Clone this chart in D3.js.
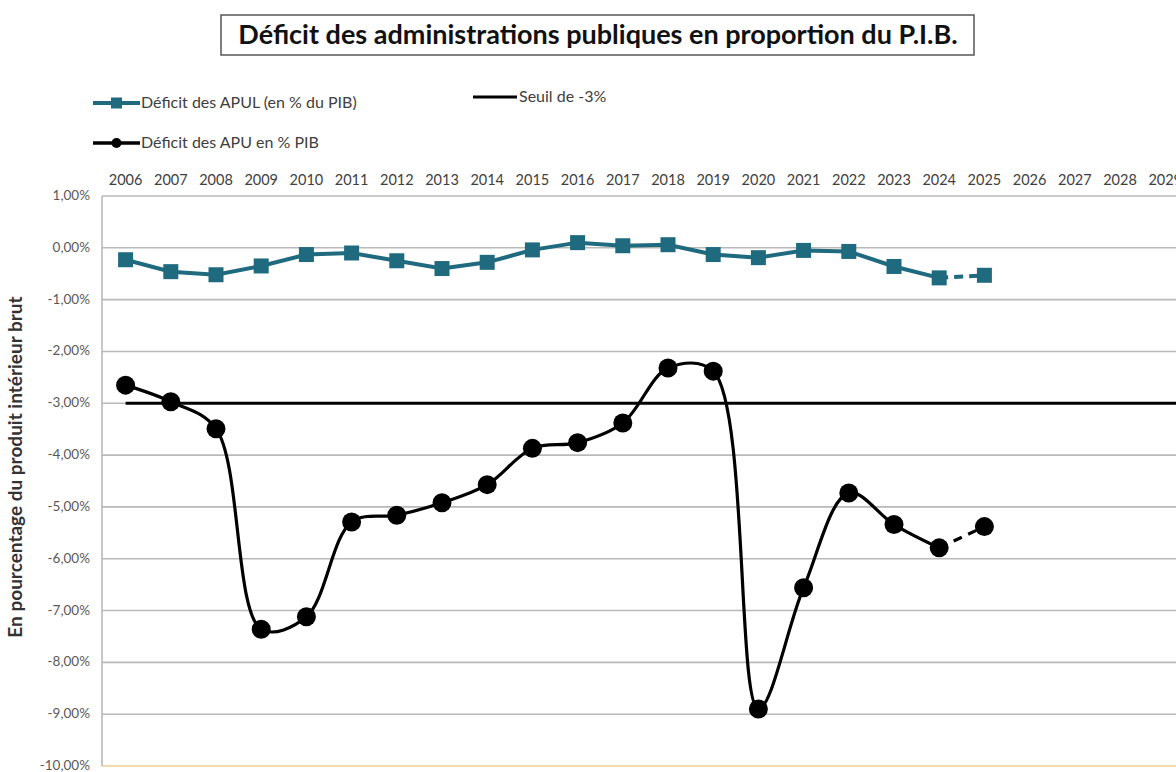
<!DOCTYPE html>
<html>
<head>
<meta charset="utf-8">
<script src="https://cdn.jsdelivr.net/npm/d3@7"></script>
<style>
  body { margin: 0; background: #fff; }
  svg { display: block; font-family: Lato, "Open Sans", sans-serif; }
</style>
</head>
<body>
<script>
// categories (top axis) - 2030 is off the right edge, like in the original crop
const years = ["2006", "2007", "2008", "2009", "2010", "2011", "2012", "2013", "2014", "2015",
               "2016", "2017", "2018", "2019", "2020", "2021", "2022", "2023", "2024", "2025",
               "2026", "2027", "2028", "2029", "2030"];

// series, in % of GDP
const dataYears = ["2006", "2007", "2008", "2009", "2010", "2011", "2012", "2013", "2014", "2015",
                   "2016", "2017", "2018", "2019", "2020", "2021", "2022", "2023", "2024", "2025"];
const apulValues = [-0.23, -0.46, -0.52, -0.35, -0.13, -0.10, -0.25, -0.40, -0.28, -0.04,
                    0.10, 0.04, 0.06, -0.13, -0.19, -0.05, -0.07, -0.36, -0.58, -0.53];
const apuValues = [-2.65, -2.97, -3.49, -7.36, -7.12, -5.29, -5.16, -4.92, -4.57, -3.87,
                   -3.76, -3.38, -2.32, -2.38, -8.90, -6.56, -4.73, -5.34, -5.79, -5.38];
const seuilValues = [-3, -3, -3, -3, -3, -3, -3, -3, -3, -3, -3, -3, -3,
                     -3, -3, -3, -3, -3, -3, -3, -3, -3, -3, -3, -3];
const lastActual = "2024"; // 2024 -> 2025 is dashed (forecast)

const yTicks = [1, 0, -1, -2, -3, -4, -5, -6, -7, -8, -9, -10];

const w = 1176, h = 772;
const padLeft = 102, padTop = 196, padBottom = 766;
const step = 45.2;

const teal = "#1f6a7f";
const grid = "#b9b9b9";

const fr = d3.formatLocale({ decimal: ",", thousands: " ", grouping: [3], currency: ["", "€"], minus: "-" });
const pct = v => fr.format(".2f")(v) + "%";

const svg = d3.select("body").append("svg")
  .attr("width", w)
  .attr("height", h);

const x = d3.scaleBand()
  .domain(years)
  .range([padLeft + 1, padLeft + 1 + step * years.length]);

const xc = d => x(d) + x.bandwidth() / 2;

const y = d3.scaleLinear()
  .domain([-10, 1])
  .range([padBottom, padTop]);

// title
const title = svg.append("g");
title.append("rect")
  .attr("x", 221).attr("y", 15)
  .attr("width", 753).attr("height", 40)
  .attr("fill", "#fff")
  .attr("stroke", "#555")
  .attr("stroke-width", 1.5);
title.append("text")
  .attr("x", 598).attr("y", 44)
  .attr("text-anchor", "middle")
  .attr("font-size", 27)
  .attr("font-weight", "bold")
  .attr("fill", "#111")
  .text("Déficit des administrations publiques en proportion du P.I.B.");

// grid lines
svg.append("g")
  .selectAll("line")
  .data(yTicks)
  .enter()
  .append("line")
  .attr("x1", padLeft).attr("x2", w)
  .attr("y1", d => y(d)).attr("y2", d => y(d))
  .attr("stroke", d => d === -10 ? "#f0cf8e" : grid)
  .attr("stroke-width", 1.6);

svg.append("line")
  .attr("x1", padLeft).attr("x2", padLeft)
  .attr("y1", padTop).attr("y2", padBottom)
  .attr("stroke", grid)
  .attr("stroke-width", 1.6);

// y tick labels
svg.append("g")
  .selectAll("text")
  .data(yTicks)
  .enter()
  .append("text")
  .attr("x", 90)
  .attr("y", d => y(d) + 4)
  .attr("text-anchor", "end")
  .attr("font-size", 13.5)
  .attr("fill", "#595959")
  .text(pct);

// y axis title
svg.append("text")
  .attr("transform", "translate(22," + ((padTop + padBottom) / 2 - 14) + ") rotate(-90)")
  .attr("text-anchor", "middle")
  .attr("font-size", 19)
  .attr("font-weight", "bold")
  .attr("fill", "#333")
  .text("En pourcentage du produit intérieur brut");

// top category axis (the 2030 slot only carries the threshold line past the edge)
const xAxis = d3.axisTop(x).tickSize(0).tickPadding(5)
  .tickValues(years.filter(d => d !== "2030"));
const gx = svg.append("g")
  .attr("transform", "translate(0,190)")
  .call(xAxis);
gx.select(".domain").remove();
gx.selectAll("text")
  .attr("font-family", "Lato, sans-serif")
  .attr("font-size", 14.5)
  .attr("fill", "#404040");

// -3% threshold
const seuil = years.map((d, i) => [d, seuilValues[i]]);
svg.append("path")
  .datum(seuil)
  .attr("fill", "none")
  .attr("stroke", "#000")
  .attr("stroke-width", 2.8)
  .attr("d", d3.line().x(d => xc(d[0])).y(d => y(d[1])));

// APUL series
const apul = dataYears.map((d, i) => [d, apulValues[i]]);
const cut = dataYears.indexOf(lastActual);
const straight = d3.line().x(d => xc(d[0])).y(d => y(d[1]));

svg.append("path")
  .datum(apul.slice(0, cut + 1))
  .attr("fill", "none")
  .attr("stroke", teal)
  .attr("stroke-width", 4)
  .attr("d", straight);
svg.append("path")
  .datum(apul.slice(cut))
  .attr("fill", "none")
  .attr("stroke", teal)
  .attr("stroke-width", 4)
  .attr("stroke-dasharray", "9,6")
  .attr("d", straight);
svg.append("g")
  .selectAll("rect")
  .data(apul)
  .enter()
  .append("rect")
  .attr("x", d => xc(d[0]) - 7.5)
  .attr("y", d => y(d[1]) - 7.5)
  .attr("width", 15).attr("height", 15)
  .attr("fill", teal);

// APU series (smoothed, Excel-like)
const apu = dataYears.map((d, i) => [d, apuValues[i]]);
const smooth = d3.line()
  .x(d => xc(d[0]))
  .y(d => y(d[1]))
  .curve(d3.curveCatmullRom.alpha(0.5));

svg.append("path")
  .datum(apu.slice(0, cut + 1))
  .attr("fill", "none")
  .attr("stroke", "#000")
  .attr("stroke-width", 3.2)
  .attr("d", smooth);
svg.append("path")
  .datum(apu.slice(cut))
  .attr("fill", "none")
  .attr("stroke", "#000")
  .attr("stroke-width", 3.2)
  .attr("stroke-dasharray", "9,7")
  .attr("d", straight);
svg.append("g")
  .selectAll("circle")
  .data(apu)
  .enter()
  .append("circle")
  .attr("cx", d => xc(d[0]))
  .attr("cy", d => y(d[1]))
  .attr("r", 9.5)
  .attr("fill", "#000");

// legend
const legend = svg.append("g").attr("font-size", 16).attr("fill", "#404040");

legend.append("line")
  .attr("x1", 93).attr("x2", 140).attr("y1", 103).attr("y2", 103)
  .attr("stroke", teal).attr("stroke-width", 4);
legend.append("rect")
  .attr("x", 111).attr("y", 97.5).attr("width", 11).attr("height", 11)
  .attr("fill", teal);
legend.append("text").attr("x", 141).attr("y", 108).text("Déficit des APUL (en % du PIB)");

legend.append("line")
  .attr("x1", 473).attr("x2", 517).attr("y1", 97).attr("y2", 97)
  .attr("stroke", "#000").attr("stroke-width", 3);
legend.append("text").attr("x", 519).attr("y", 102).text("Seuil de -3%");

legend.append("line")
  .attr("x1", 93).attr("x2", 140).attr("y1", 143).attr("y2", 143)
  .attr("stroke", "#000").attr("stroke-width", 3.5);
legend.append("circle")
  .attr("cx", 116.5).attr("cy", 143).attr("r", 5)
  .attr("fill", "#000");
legend.append("text").attr("x", 141).attr("y", 148).text("Déficit des APU en % PIB");
</script>
</body>
</html>
